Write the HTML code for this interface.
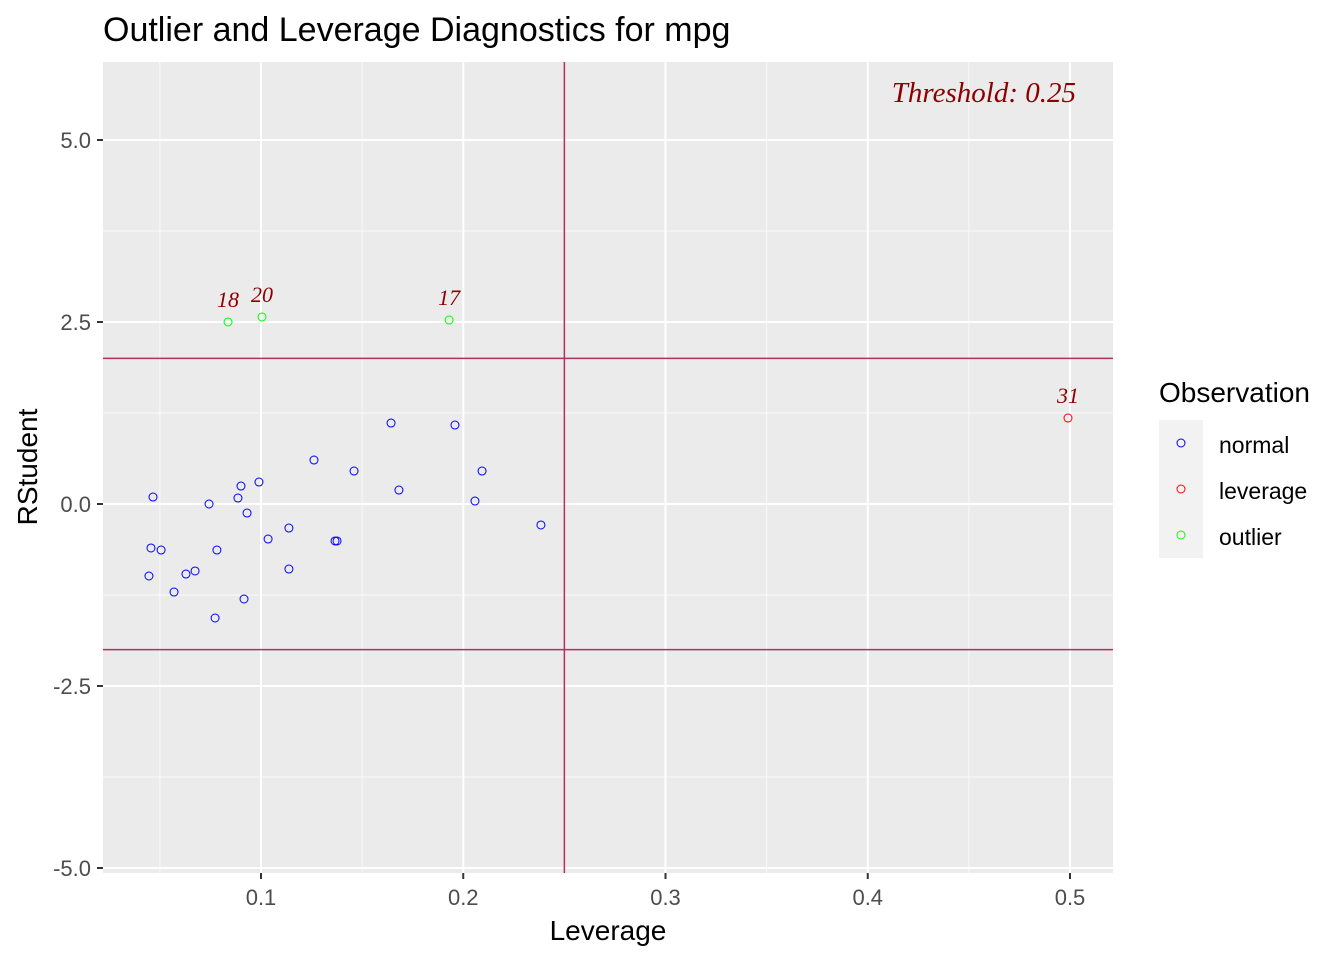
<!DOCTYPE html>
<html><head><meta charset="utf-8"><style>
body{margin:0;background:#fff;}
svg text{font-family:"Liberation Sans",Arial,sans-serif;}
</style></head><body>
<svg id="chart" width="1344" height="960" xmlns="http://www.w3.org/2000/svg">
<rect width="1344" height="960" fill="#fff"/>
<text x="103" y="41" font-size="34" fill="#000">Outlier and Leverage Diagnostics for mpg</text>
<rect x="103" y="62" width="1010" height="811" fill="#ebebeb"/>
<g id="grid"></g>
<g id="refs"></g>
<g id="marks"></g>
<g id="axes"></g>
<text x="1076" y="102" font-size="29" text-anchor="end" font-style="italic" fill="#8b0000" style="font-family:'Liberation Serif',serif">Threshold: 0.25</text>
<text x="608" y="940" font-size="28" text-anchor="middle" fill="#000">Leverage</text>
<text x="37" y="467" font-size="28" text-anchor="middle" fill="#000" transform="rotate(-90 37 467)">RStudent</text>
<g>
<text x="1159" y="402" font-size="28" fill="#000">Observation</text>
<rect x="1159" y="420" width="44" height="138" fill="#f2f2f2"/>
<circle cx="1181" cy="443" r="4" fill="none" stroke="#0000ff" stroke-width="1"/>
<circle cx="1181" cy="489" r="4" fill="none" stroke="#ff0000" stroke-width="1"/>
<circle cx="1181" cy="535" r="4" fill="none" stroke="#00ff00" stroke-width="1"/>
<text x="1219" y="453" font-size="23">normal</text>
<text x="1219" y="499" font-size="23">leverage</text>
<text x="1219" y="545" font-size="23">outlier</text>
</g>
</svg>
<script>
const normalX=[0.0466,0.0456,0.0506,0.0446,0.057,0.0629,0.0674,0.0743,0.0782,0.0773,0.0886,0.0901,0.0931,0.0916,0.099,0.1035,0.1138,0.1138,0.1262,0.1366,0.1376,0.146,0.1643,0.1682,0.1959,0.2058,0.2093,0.2384];
const normalY=[0.096,-0.604,-0.632,-0.989,-1.209,-0.962,-0.920,0,-0.632,-1.566,0.082,0.247,-0.124,-1.305,0.302,-0.481,-0.330,-0.893,0.604,-0.508,-0.508,0.453,1.112,0.192,1.085,0.041,0.453,-0.288];
const leverageX=[0.499];
const leverageY=[1.181];
const leverageLabels=["31"];
const outlierX=[0.0837,0.1005,0.193];
const outlierY=[2.5,2.569,2.527];
const outlierLabels=["18","20","17"];
const xTicks=[0.1,0.2,0.3,0.4,0.5];
const xTickLabels=["0.1","0.2","0.3","0.4","0.5"];
const yTicks=[5,2.5,0,-2.5,-5];
const yTickLabels=["5.0","2.5","0.0","-2.5","-5.0"];
const xMinor=[0.05,0.15,0.25,0.35,0.45];
const yMinor=[3.75,1.25,-1.25,-3.75];
const threshold=0.25;
const rstudentLimits=[2,-2];

const X=v=>261+(v-0.1)*2022.5;
const Y=v=>504-v*72.8;
const NS="http://www.w3.org/2000/svg";
function mk(parent,tag,attrs){const e=document.createElementNS(NS,tag);for(const k in attrs)e.setAttribute(k,attrs[k]);document.getElementById(parent).appendChild(e);return e;}

xMinor.forEach(v=>{const e=mk('grid','line',{x1:X(v),x2:X(v),y1:62,y2:873,stroke:'#fafafa','stroke-width':1});

});
yMinor.forEach(v=>{const e=mk('grid','line',{x1:103,x2:1113,y1:Y(v),y2:Y(v),stroke:'#fafafa','stroke-width':1});

});
xTicks.forEach((v,i)=>{const g=mk('grid','line',{x1:X(v),x2:X(v),y1:62,y2:873,stroke:'#fff','stroke-width':2});


const t=mk('axes','line',{x1:X(v),x2:X(v),y1:873,y2:879,stroke:'#333','stroke-width':2});


const l=mk('axes','text',{x:X(v),y:905,'font-size':22,'text-anchor':'middle',fill:'#4d4d4d'});l.textContent=xTickLabels[i];

});
yTicks.forEach((v,i)=>{const g=mk('grid','line',{x1:103,x2:1113,y1:Y(v),y2:Y(v),stroke:'#fff','stroke-width':2});


const t=mk('axes','line',{x1:97,x2:103,y1:Y(v),y2:Y(v),stroke:'#333','stroke-width':2});


const l=mk('axes','text',{x:91,y:Y(v)+8,'font-size':22,'text-anchor':'end',fill:'#4d4d4d'});l.textContent=yTickLabels[i];

});
{const e=mk('refs','line',{x1:X(threshold),x2:X(threshold),y1:62,y2:873,stroke:'#b03060','stroke-width':1.5});

}
rstudentLimits.forEach(v=>{const e=mk('refs','line',{x1:103,x2:1113,y1:Y(v),y2:Y(v),stroke:'#b03060','stroke-width':1.5});

});
function pts(xs,ys,col,name,labels){xs.forEach((x,i)=>{const c=mk('marks','circle',{cx:X(x),cy:Y(ys[i]),r:4,fill:'none',stroke:col,'stroke-width':1});


if(labels){const t=mk('marks','text',{x:X(x),y:Y(ys[i])-15,'font-size':22,'text-anchor':'middle','font-style':'italic',fill:'#8b0000',style:"font-family:'Liberation Serif',serif"});t.textContent=labels[i];

}});}
pts(normalX,normalY,'#0000ff','normal-point');
pts(leverageX,leverageY,'#ff0000','leverage-point',leverageLabels);
pts(outlierX,outlierY,'#00ff00','outlier-point',outlierLabels);
</script>
</body></html>
